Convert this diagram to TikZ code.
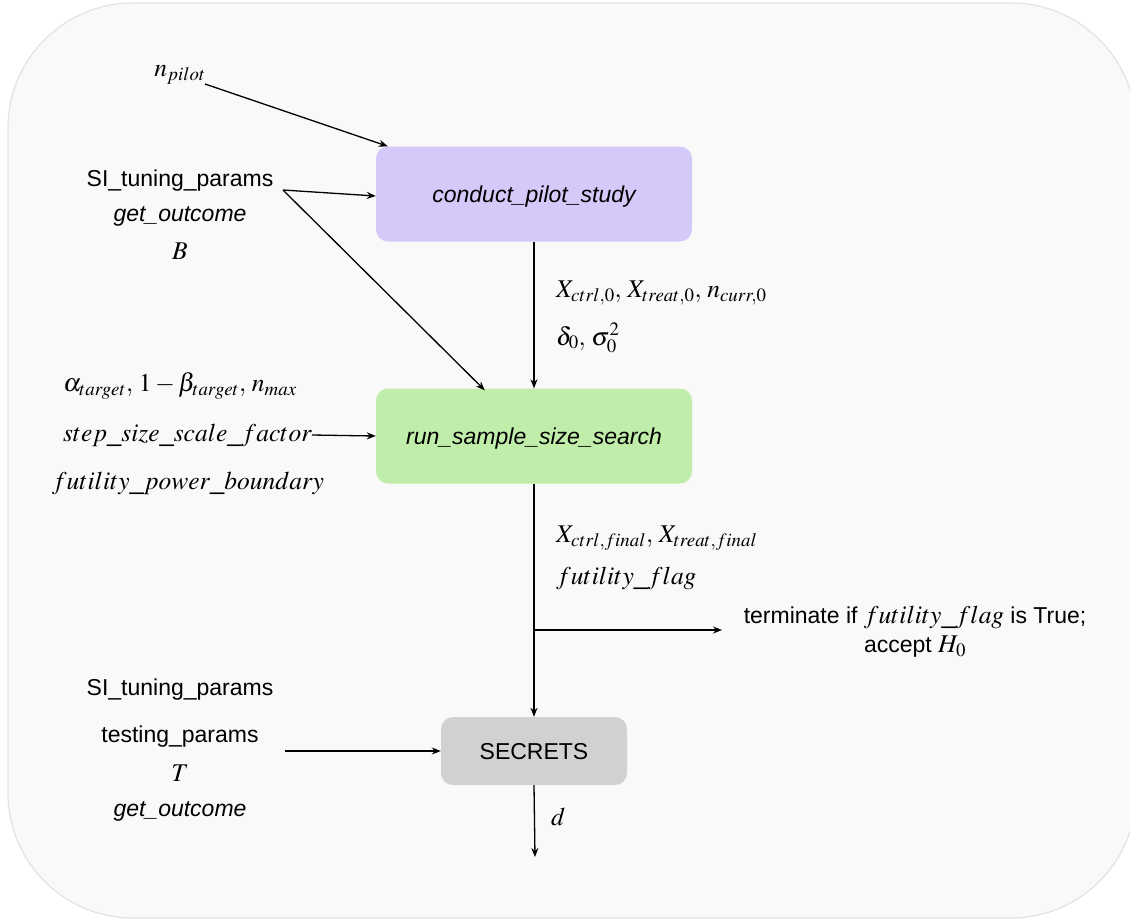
\documentclass[tikz,border=0pt]{standalone}
\usepackage{mathptmx}
\usepackage[no-math]{fontspec}
\setmainfont{Liberation Sans}
\usetikzlibrary{arrows.meta}
\definecolor{bgfill}{HTML}{F9F9F9}
\definecolor{bgline}{HTML}{E2E2E2}
\definecolor{pilotc}{HTML}{D4C9F9}
\definecolor{runc}{HTML}{C1EDAA}
\definecolor{secc}{HTML}{D1D1D1}
\newcommand\txfs{\fontsize{23}{27}\selectfont}
\newcommand\mathfs{\fontsize{25.5}{29}\selectfont}
\tikzset{
  box/.style={rounded corners=12pt, inner sep=0pt, minimum width=316pt, minimum height=95pt, text depth=0pt, font=\txfs\itshape},
  lbl/.style={inner sep=0pt, font=\txfs},
  mlbl/.style={inner sep=0pt, font=\mathfs},
  ilbl/.style={inner sep=0pt, font=\txfs\itshape},
  arr/.style={line width=1.3pt, -{Stealth[length=9pt,width=7pt]}},
}
\begin{document}
\begin{tikzpicture}[x=1pt,y=-1pt]
\useasboundingbox (0,0) rectangle (1130,922);
\fill[bgfill, draw=bgline, line width=1.2pt, rounded corners=125pt] (8,3) rectangle (1136,918);

\node[box, fill=pilotc] (pilot) at (534,194) {conduct\_pilot\_study};
\node[box, fill=runc] (run) at (534,436) {run\_sample\_size\_search};
\node[box, fill=secc, minimum width=186pt, minimum height=68pt, font=\txfs\upshape] (sec) at (534,751) {SECRETS};

\node[mlbl] (npilot) at (180,75) {$n_{pilot}$};
\node[lbl] (si1) at (180,181) {SI\_tuning\_params};
\node[ilbl] (go1) at (180,216) {get\_outcome};
\node[mlbl] (B) at (180,251) {$B$};

\node[mlbl, anchor=west] (x0) at (556,293) {$X_{ctrl,0}, \, X_{treat,0}, \, n_{curr,0}$};
\node[mlbl, anchor=west] (d0) at (556,338) {$\delta_0, \, \sigma_0^2$};

\node[mlbl] (alpha) at (180,386) {$\alpha_{target}, \, 1-\beta_{target}, \, n_{max}$};
\node[mlbl, anchor=east] (step) at (312,435) {$step\_size\_scale\_factor$};
\node[mlbl] (fut) at (188,483) {$futility\_power\_boundary$};

\node[mlbl, anchor=west] (xf) at (556,538) {$X_{ctrl,final}, \, X_{treat,final}$};
\node[mlbl, anchor=west] (ff) at (556,578) {$futility\_flag$};

\node[lbl, align=center] (term) at (915,632) {terminate if {\mathfs$futility\_flag$} is True;\\[2pt] accept {\mathfs$H_0$}};

\node[lbl] (si2) at (180,690) {SI\_tuning\_params};
\node[lbl] (tp) at (180,737) {testing\_params};
\node[mlbl] (T) at (180,773) {$T$};
\node[ilbl] (go2) at (180,811) {get\_outcome};
\node[mlbl, anchor=west] (dl) at (551,817) {$d$};

\coordinate (npS) at (205,84);
\coordinate (siS) at (283,190);
\coordinate (br) at (535,630);
\coordinate (brE) at (722,630);
\coordinate (inS) at (285,751);
\coordinate (dE) at (535,857);

\draw[arr] (npS) -- ([xshift=12pt]pilot.north west);
\draw[arr] (siS) -- ([yshift=-2pt]pilot.west);
\draw[arr] (siS) -- ([xshift=109pt,yshift=-2pt]run.north west);
\draw[arr] (pilot.south) -- (run.north);
\draw[arr] (step.east) -- (run.west);
\draw[arr] (run.south) -- (sec.north);
\draw[arr] (br) -- (brE);
\draw[arr] (inS) -- (sec.west);
\draw[arr] (sec.south) -- (dE);
\end{tikzpicture}
\end{document}
